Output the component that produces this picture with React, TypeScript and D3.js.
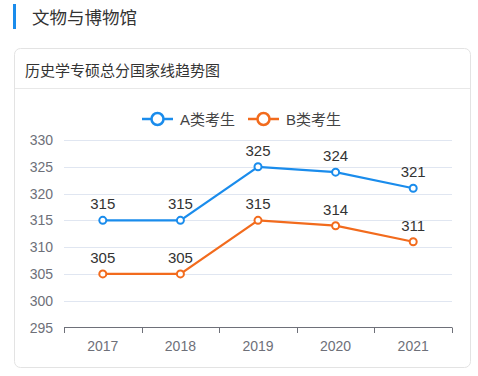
import React from "react";
import * as d3 from "d3";

const years = ["2017", "2018", "2019", "2020", "2021"];
const seriesA = [315, 315, 325, 324, 321];
const seriesB = [305, 305, 315, 314, 311];
const seriesNames = ["A类考生", "B类考生"];
const yTicks = [295, 300, 305, 310, 315, 320, 325, 330];

const W = 478;
const H = 376;
const FONT = "'Liberation Sans', 'Noto Sans CJK SC', sans-serif";
const BLUE = "#1a8cec";
const ORANGE = "#f26b1d";

export default function App() {
  const x = d3.scaleBand<string>().domain(years).range([64, 452]);
  const y = d3.scaleLinear().domain([295, 330]).range([327.5, 140]);
  const line = d3
    .line<number>()
    .x((_, i) => (x(years[i]) as number) + x.bandwidth() / 2)
    .y((d) => y(d));

  const series = [
    { name: seriesNames[0], values: seriesA, color: BLUE },
    { name: seriesNames[1], values: seriesB, color: ORANGE },
  ];
  const legendX = [142, 248];
  const tickXs = [...years.map((yr) => x(yr) as number), x.range()[1]];

  return (
    <svg
      width={W}
      height={H}
      style={{ position: "absolute", left: 0, top: 0, background: "#fff" }}
      fontFamily={FONT}
    >
      <rect x={0} y={0} width={W} height={H} fill="#fff" />
      <rect x={13} y={4} width={3} height={25} fill={BLUE} />
      <text x={32} y={24} fontSize={17.5} fill="#333">
        文物与博物馆
      </text>

      <rect x={14.5} y={48.5} width={456} height={319} rx={6} fill="#fff" stroke="#e3e3e3" />
      <text x={25} y={76} fontSize={15} fill="#333">
        历史学专硕总分国家线趋势图
      </text>
      <line x1={15} x2={470} y1={88.5} y2={88.5} stroke="#e8e8e8" />

      {series.map((s, i) => (
        <g key={s.name}>
          <line x1={legendX[i]} x2={legendX[i] + 31} y1={119} y2={119} stroke={s.color} strokeWidth={2.5} />
          <circle cx={legendX[i] + 15.5} cy={119} r={6} fill="#fff" stroke={s.color} strokeWidth={2.5} />
          <text x={legendX[i] + 38} y={124.5} fontSize={15} fill="#444">
            {s.name}
          </text>
        </g>
      ))}

      {yTicks.map((t) => (
        <g key={t}>
          {t !== 295 && (
            <line x1={64} x2={452} y1={Math.round(y(t)) + 0.5} y2={Math.round(y(t)) + 0.5} stroke="#e0e6f1" />
          )}
          <text x={53} y={y(t) + 5} fontSize={14} fill="#6e7079" textAnchor="end">
            {t}
          </text>
        </g>
      ))}

      <line x1={64} x2={452} y1={327.5} y2={327.5} stroke="#6e7079" strokeWidth={1.2} />
      {tickXs.map((tx, i) => (
        <line key={i} x1={Math.round(tx) + 0.5} x2={Math.round(tx) + 0.5} y1={327.5} y2={333} stroke="#6e7079" />
      ))}
      {years.map((yr) => (
        <text
          key={yr}
          x={(x(yr) as number) + x.bandwidth() / 2}
          y={351}
          fontSize={14}
          fill="#6e7079"
          textAnchor="middle"
        >
          {yr}
        </text>
      ))}

      {series.map((s) => (
        <g key={s.name}>
          <path d={line(s.values) || ""} fill="none" stroke={s.color} strokeWidth={2.2} />
          {s.values.map((v, i) => {
            const cx = (x(years[i]) as number) + x.bandwidth() / 2;
            return (
              <g key={i}>
                <circle cx={cx} cy={y(v)} r={3.5} fill="#fff" stroke={s.color} strokeWidth={2} />
                <text x={cx} y={y(v) - 11} fontSize={15} fill="#333" textAnchor="middle">
                  {v}
                </text>
              </g>
            );
          })}
        </g>
      ))}
    </svg>
  );
}
